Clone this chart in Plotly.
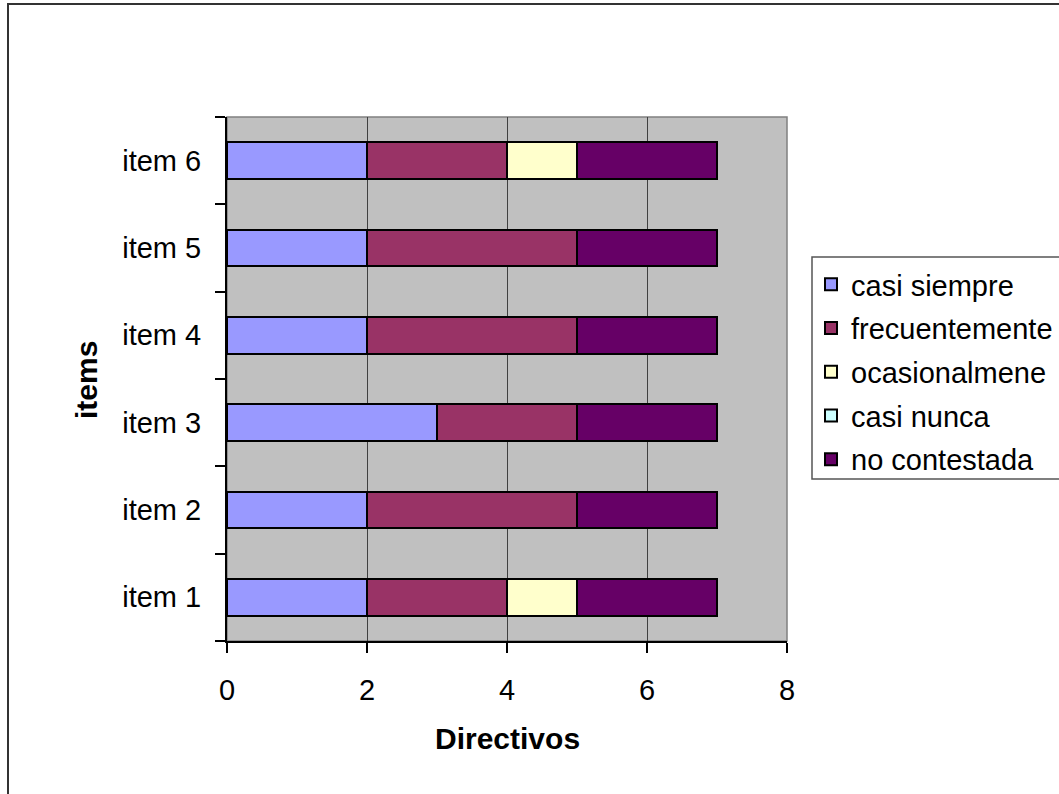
import plotly.graph_objects as go

# Categories, series and tick values
items = ["item 1", "item 2", "item 3", "item 4", "item 5", "item 6"]
series_names = ["casi siempre", "frecuentemente", "ocasionalmene", "casi nunca", "no contestada"]
casi_siempre = [2, 2, 3, 2, 2, 2]
frecuentemente = [2, 3, 2, 3, 3, 2]
ocasionalmente = [1, 0, 0, 0, 0, 1]
casi_nunca = [0, 0, 0, 0, 0, 0]
no_contestada = [2, 2, 2, 2, 2, 2]
x_ticks = [0, 2, 4, 6, 8]
series_colors = ["#9999FF", "#993366", "#FFFFCC", "#CCFFFF", "#660066"]

series_values = [casi_siempre, frecuentemente, ocasionalmente, casi_nunca, no_contestada]

FONT = "Liberation Sans, Arial, sans-serif"
FS = 29
FS_TITLE = 30

fig = go.Figure()
for i, (name, vals, col) in enumerate(zip(series_names, series_values, series_colors)):
    fig.add_trace(go.Bar(
        y=items, x=vals, name=name, orientation="h",
        marker=dict(color=col, line=dict(color="#000000", width=2)),
        legendgroup=f"g{i}",
    ))

W, H = 1059, 794
ML, MR, MT, MB = 227, 272, 117, 153
PW, PH = W - ML - MR, H - MT - MB


def px_x(p):
    return (p - ML) / PW


def px_y(p):
    return (H - MB - p) / PH


fig.update_layout(
    width=W, height=H,
    margin=dict(l=ML, r=MR, t=MT, b=MB, pad=0, autoexpand=False),
    barmode="stack", bargap=0.58,
    paper_bgcolor="#FFFFFF", plot_bgcolor="#C0C0C0",
    font=dict(family=FONT, size=FS, color="#000000"),
    showlegend=True,
    legend=dict(
        x=px_x(811), y=px_y(259), xanchor="left", yanchor="top",
        traceorder="grouped", tracegroupgap=3,
        bgcolor="rgba(0,0,0,0)", borderwidth=0,
        font=dict(family=FONT, size=FS, color="#000000"),
    ),
    xaxis=dict(
        range=[0, 8], tickvals=x_ticks, ticktext=[str(v) for v in x_ticks],
        showgrid=True, gridcolor="#404040", gridwidth=1,
        zeroline=False, showline=True, linecolor="#000000", linewidth=2,
        ticks="outside", ticklen=10, tickwidth=1.5, tickcolor="#000000",
        ticklabelstandoff=12,
        fixedrange=True,
    ),
    yaxis=dict(
        type="category", categoryorder="array", categoryarray=items,
        tickson="boundaries", showgrid=False, zeroline=False,
        showline=True, linecolor="#000000", linewidth=2,
        ticks="outside", ticklen=10, tickwidth=1.5, tickcolor="#000000",
        ticklabelstandoff=18,
        fixedrange=True,
    ),
    shapes=[
        # plot-area frame (top and right edges)
        dict(type="rect", xref="paper", yref="paper", x0=0, x1=1, y0=0, y1=1,
             line=dict(color="#808080", width=1.5), layer="below"),
        # outer chart frame
        dict(type="rect", xref="paper", yref="paper",
             x0=px_x(8), x1=px_x(1100), y0=px_y(4), y1=px_y(830),
             line=dict(color="#333333", width=2)),
        # legend frame
        dict(type="rect", xref="paper", yref="paper",
             x0=px_x(812), x1=px_x(1080), y0=px_y(257), y1=px_y(479),
             line=dict(color="#555555", width=1.5)),
    ],
    annotations=[
        dict(text="<b>Directivos</b>", xref="paper", yref="paper",
             x=0.5, y=px_y(738), xanchor="center", yanchor="middle",
             showarrow=False, font=dict(family=FONT, size=FS_TITLE)),
        dict(text="<b>items</b>", xref="paper", yref="paper",
             x=px_x(86), y=px_y(380), xanchor="center", yanchor="middle",
             textangle=-90, showarrow=False, font=dict(family=FONT, size=FS_TITLE)),
    ],
)

fig.write_html("out.html", config={"displayModeBar": False})
